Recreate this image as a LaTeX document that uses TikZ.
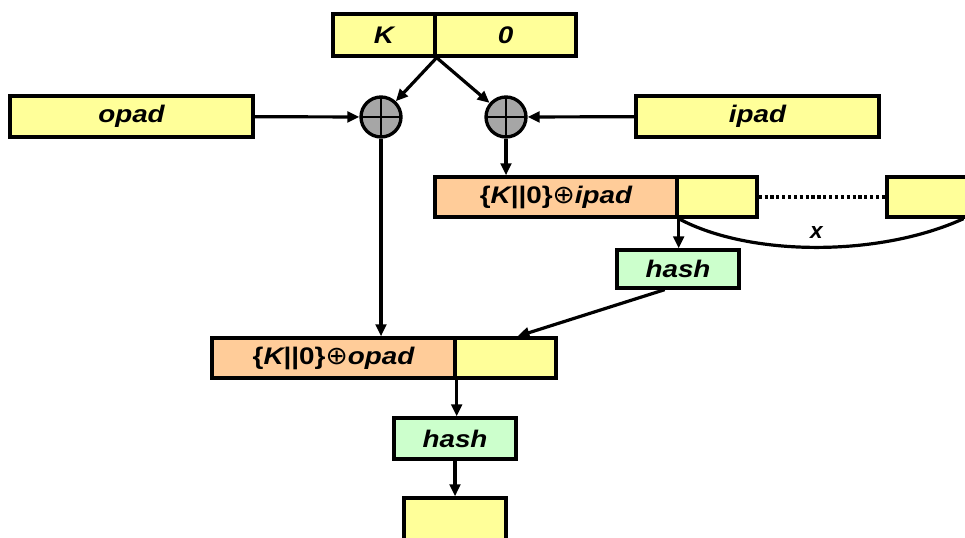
\documentclass[tikz,border=0pt]{standalone}
\usepackage{fontspec}
\setmainfont{Liberation Sans}
\newfontfamily\wideface[FakeStretch=1.16]{Liberation Sans}
\newfontfamily\symfont[FakeStretch=1.05]{DejaVu Sans}
\usetikzlibrary{arrows.meta,fit,calc}
\definecolor{padyellow}{HTML}{FFFF99}
\definecolor{keyorange}{HTML}{FFCC99}
\definecolor{hashgreen}{HTML}{CCFFCC}
\definecolor{xorgray}{HTML}{A6A6A6}
\newcommand{\lbl}{\wideface\bfseries\itshape\fontsize{18}{20}\selectfont}
\newcommand{\oplussign}{{\symfont\mdseries\upshape\fontsize{19}{20}\selectfont ⊕}}
\begin{document}
\begin{tikzpicture}[x=0.75pt,y=-0.75pt,
  box/.style={draw=black, line width=2.5pt, inner sep=0pt},
  ybox/.style={box, fill=padyellow},
  obox/.style={box, fill=keyorange},
  gbox/.style={box, fill=hashgreen},
  txt/.style={label={[font=\lbl, inner sep=0pt]center:#1}},
  xor/.style={circle, draw=black, fill=xorgray, line width=2.5pt,
    minimum size=30pt, inner sep=0pt,
    path picture={\draw[line width=2pt]
      (path picture bounding box.north) -- (path picture bounding box.south)
      (path picture bounding box.west) -- (path picture bounding box.east);}},
  conn/.style={line width=2.4pt, -{Triangle[length=9pt,width=8pt]}},
  wire/.style={line width=2.4pt}]
\useasboundingbox (0,0) rectangle (965,538);
\clip (0,0) rectangle (965,538);

% key padded with zeros
\node[ybox, fit={(333,14) (435,56)}, txt=K] (k) {};
\node[ybox, fit={(435,14) (576,56)}, txt=0] (zero) {};

% pads
\node[ybox, fit={(10,96) (253,137)}, txt=opad] (opad) {};
\node[ybox, fit={(636,96) (879,137)}, txt=ipad] (ipad) {};

% xor gates
\node[xor] (xl) at (381,117) {};
\node[xor] (xr) at (506,117) {};

% inner message blocks
\node[obox, fit={(435,177) (677,217)},
  txt={{\upshape\{}K{\upshape||0\}}\oplussign ipad}] (ki) {};
\node[ybox, fit={(677,177) (757,217)}] (m1) {};
\node[ybox, fit={(887,177) (1040,217)}] (mn) {};

% inner hash
\node[gbox, fit={(617,250) (739,288)}, txt=hash] (h1) {};

% outer message blocks
\node[obox, fit={(212,338) (455,378)},
  txt={{\upshape\{}K{\upshape||0\}}\oplussign opad}] (ko) {};
\node[ybox, fit={(455,338) (556,378)}] (inner) {};

% outer hash and result
\node[gbox, fit={(394,418) (516,459)}, txt=hash] (h2) {};
\node[ybox, fit={(404,498) (506,560)}] (out) {};

% connectors
\draw[conn] (k.south east) -- (xl);
\draw[conn] (k.south east) -- (xr);
\draw[conn] (opad) -- (xl);
\draw[conn] (ipad) -- (xr);
\draw[conn] (xr.south) -- (xr.south |- ki.north);
\draw[conn] (xl.south) -- (xl.south |- ko.north);
\draw[conn] (ki.south east) -- (ki.south east |- h1.north);
\draw[conn] ([xshift=-10pt]h1.south) -- ([xshift=9pt]inner.north);
\draw[conn] (ko.south east) -- (ko.south east |- h2.north);
\draw[conn] (h2.south) -- (out.north);

% message blocks in between, and their count
\draw[line width=2.4pt, dotted] (m1.east) -- (mn.west);
\draw[wire] (ki.south east) .. controls (750,257) and (880,257) .. (mn.south)
  node[pos=0.5, above=2pt, font=\bfseries\itshape\fontsize{17}{18}\selectfont] (xlab) {x};
\end{tikzpicture}
\end{document}
